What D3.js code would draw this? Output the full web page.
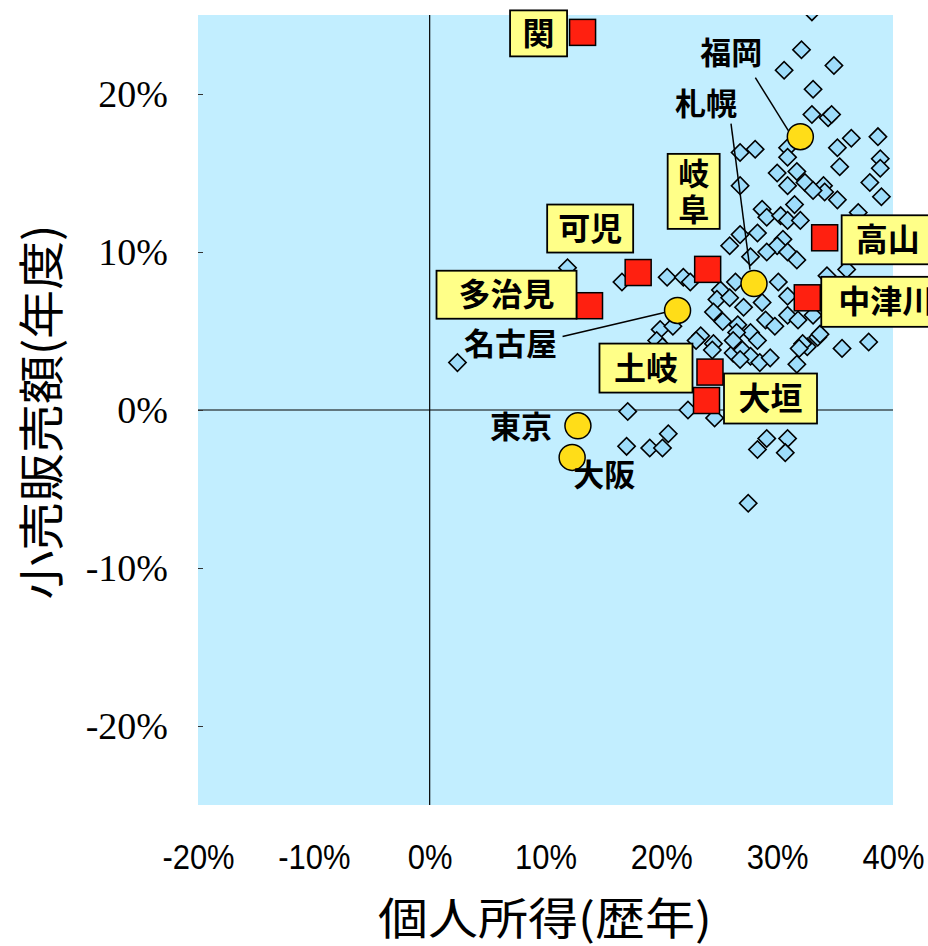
<!DOCTYPE html>
<html><head><meta charset="utf-8">
<script src="https://cdn.jsdelivr.net/npm/d3@7"></script>
<style>html,body{margin:0;padding:0;background:#fff;}svg{display:block;}</style>
</head><body>
<script>
// ---- data ----
const xTicks = [-20, -10, 0, 10, 20, 30, 40];
const yTicks = [-20, -10, 0, 10, 20];
const xTitle = "個人所得(歴年)";
const yTitle = "小売販売額(年度)";

// other cities (personal income %, retail sales %)
const otherX = [33.0,32.1,30.6,34.9,33.1,33.0,34.4,34.7,36.4,38.7,35.2,26.8,28.1,30.9,30.9,35.4,38.9,38.9,38.0,39.0,
  30.0,31.7,30.9,32.4,34.0,34.1,33.1,35.2,26.8,31.5,28.7,29.1,30.3,30.9,32.0,37.0,26.8,28.3,25.9,30.5,
  30.0,30.9,29.1,27.7,31.7,34.3,36.0,26.4,30.1,25.1,24.8,25.9,27.1,28.7,30.9,24.5,25.3,26.6,27.7,29.0,
  29.8,30.9,31.8,33.1,28.3,23.4,24.5,33.5,32.6,35.6,37.9,20.5,21.9,22.5,11.9,16.6,26.5,23.0,24.4,19.9,
  21.0,19.6,20.1,26.2,27.0,27.7,26.8,28.5,29.4,31.7,32.2,33.7,31.9,2.4,26.2,17.1,22.3,24.6,20.6,19.0,
  20.1,17.0,29.1,28.3,30.9,30.7,27.5];
const otherY = [25.2,22.8,21.5,21.8,20.3,18.7,18.5,18.7,17.2,17.3,16.6,16.3,16.5,16.6,16.0,15.4,15.9,15.3,14.4,13.5,
  15.0,15.1,14.2,14.4,14.2,13.8,13.9,13.3,14.2,13.0,12.7,12.2,12.3,12.0,12.0,12.5,11.1,11.2,10.4,10.8,
  10.4,10.0,10.0,9.7,9.5,8.5,8.9,8.1,8.1,7.6,7.0,7.1,6.5,6.8,7.2,6.2,5.6,5.4,4.9,5.7,
  5.3,6.0,5.7,6.0,4.4,4.7,4.2,4.6,4.0,3.9,4.3,8.4,8.4,8.1,9.0,8.1,4.9,4.4,3.8,5.1,
  5.3,4.4,4.0,3.6,3.8,3.4,3.2,3.0,3.3,2.9,4.2,4.8,3.9,3.0,4.4,-0.1,0.0,-0.5,-1.5,-2.4,
  -2.4,-2.3,-1.8,-2.5,-1.8,-2.7,-5.9];

// Gifu prefecture cities (red squares)
const gifuNames = ["関","可児","多治見","岐阜","高山","中津川","土岐","大垣"];
const gifuX = [13.2, 18.0, 13.8, 24.0, 34.1, 32.6, 24.2, 23.9];
const gifuY = [23.9, 8.7, 6.6, 8.9, 10.9, 7.1, 2.4, 0.6];

// major cities (yellow circles)
const majorNames = ["福岡","札幌","名古屋","東京","大阪"];
const majorX = [32.0, 28.0, 21.4, 12.8, 12.3];
const majorY = [17.3, 8.0, 6.3, -1.0, -3.0];

// ---- layout / label placement (pixel offsets from the point) ----
const W = 928, H = 946;
const M = {left:198, right:893, top:15, bottom:805};
const boxLabels = {
  "関":   {dx:-44,  dy:1,    w:57,  h:46, vertical:false},
  "可児": {dx:-48,  dy:-44,  w:86,  h:48, vertical:false},
  "多治見":{dx:-83, dy:-11,  w:140, h:48, vertical:false},
  "岐阜": {dx:-14,  dy:-78,  w:52,  h:75, vertical:true},
  "高山": {dx:63,   dy:2,    w:92,  h:49, vertical:false},
  "中津川":{dx:79,  dy:4,    w:130, h:50, vertical:false},
  "土岐": {dx:-64,  dy:-4,   w:93,  h:49, vertical:false},
  "大垣": {dx:64,   dy:-2,   w:93,  h:50, vertical:false}
};
const textLabels = {
  "福岡":  {dx:-69,  dy:-84, line:[-45,-59,-12,-6]},
  "札幌":  {dx:-48,  dy:-180,line:[-23,-160,-4,-14]},
  "名古屋":{dx:-167, dy:33,  line:[-115,26,-13,2]},
  "東京":  {dx:-57,  dy:1},
  "大阪":  {dx:32,   dy:17}
};

const svg = d3.select("body").append("svg").attr("width", W).attr("height", H)
  .style("font-family", "'Noto Sans CJK JP', sans-serif");

const x = d3.scaleLinear().domain([-20, 40]).range([M.left, M.right]);
const y = d3.scaleLinear().domain([-25, 25]).range([M.bottom, M.top]);

svg.append("defs").append("clipPath").attr("id","plotclip")
  .append("rect").attr("x",M.left).attr("y",M.top).attr("width",M.right-M.left).attr("height",M.bottom-M.top);

svg.append("rect").attr("x",M.left).attr("y",M.top).attr("width",M.right-M.left).attr("height",M.bottom-M.top)
  .attr("fill","#C2EEFF");

// zero lines
svg.append("line").attr("x1",M.left).attr("x2",M.right).attr("y1",y(0)).attr("y2",y(0))
  .attr("stroke","#000").attr("stroke-width",1.2);
svg.append("line").attr("x1",x(0)).attr("x2",x(0)).attr("y1",M.top).attr("y2",M.bottom)
  .attr("stroke","#000").attr("stroke-width",1.2);

// y axis
const yAxis = d3.axisLeft(y).tickValues(yTicks).tickSize(-5).tickPadding(30).tickFormat(d => d + "%");
const gy = svg.append("g").attr("transform", `translate(${M.left},0)`).call(yAxis);
gy.select(".domain").remove();
gy.selectAll(".tick line").attr("stroke","#333");
gy.selectAll("text").attr("font-family","'Liberation Serif', 'Times New Roman', serif")
  .attr("font-size",38).attr("fill","#000");

// x axis
const xAxis = d3.axisBottom(x).tickValues(xTicks).tickSize(0).tickPadding(0).tickFormat(d => d + "%");
const gx = svg.append("g").attr("transform", `translate(0,${M.bottom})`).call(xAxis);
gx.select(".domain").remove();
gx.selectAll(".tick text").attr("font-family","'Liberation Sans Narrow','Liberation Sans', Arial, sans-serif")
  .attr("font-size",36).attr("fill","#000").attr("dy",0)
  .attr("transform","translate(0,64) scale(0.86,1)");

// axis titles
svg.append("text").attr("x",545).attr("y",935).attr("text-anchor","middle")
  .attr("font-size",44).attr("fill","#000")
  .attr("textLength",334).attr("lengthAdjust","spacingAndGlyphs").text(xTitle);
svg.append("text").attr("transform","translate(58,412) rotate(-90)").attr("text-anchor","middle")
  .attr("font-size",46).attr("fill","#000")
  .attr("textLength",375).attr("lengthAdjust","spacingAndGlyphs").text(yTitle);

const plot = svg.append("g").attr("clip-path","url(#plotclip)");

// diamonds
const others = otherX.map((v,i) => ({x:v, y:otherY[i]}));
const diamond = d3.symbol().type(d3.symbolSquare).size(150);
plot.selectAll("path.other").data(others).join("path")
  .attr("class","other")
  .attr("d", diamond)
  .attr("transform", d => `translate(${x(d.x)},${y(d.y)}) rotate(45)`)
  .attr("fill","#9EDDFB").attr("stroke","#000").attr("stroke-width",1.6);

// leader lines
const majors = majorNames.map((n,i) => ({name:n, x:majorX[i], y:majorY[i]}));
svg.selectAll("line.leader").data(majors.filter(d => textLabels[d.name].line)).join("line")
  .attr("class","leader")
  .attr("x1", d => x(d.x) + textLabels[d.name].line[0])
  .attr("y1", d => y(d.y) + textLabels[d.name].line[1])
  .attr("x2", d => x(d.x) + textLabels[d.name].line[2])
  .attr("y2", d => y(d.y) + textLabels[d.name].line[3])
  .attr("stroke","#000").attr("stroke-width",1.5);

// circles
svg.selectAll("circle.major").data(majors).join("circle")
  .attr("class","major")
  .attr("cx", d => x(d.x)).attr("cy", d => y(d.y)).attr("r",13)
  .attr("fill","#FFDD18").attr("stroke","#000").attr("stroke-width",1.5);

// squares
const gifu = gifuNames.map((n,i) => ({name:n, x:gifuX[i], y:gifuY[i]}));
svg.selectAll("rect.gifu").data(gifu).join("rect")
  .attr("class","gifu")
  .attr("x", d => x(d.x) - 13).attr("y", d => y(d.y) - 13)
  .attr("width",26).attr("height",26)
  .attr("fill","#FF2010").attr("stroke","#000").attr("stroke-width",1.5);

// boxed labels
const bl = svg.selectAll("g.blabel").data(gifu).join("g").attr("class","blabel")
  .attr("transform", d => `translate(${x(d.x)+boxLabels[d.name].dx},${y(d.y)+boxLabels[d.name].dy})`);
bl.append("rect")
  .attr("x", d => -boxLabels[d.name].w/2).attr("y", d => -boxLabels[d.name].h/2)
  .attr("width", d => boxLabels[d.name].w).attr("height", d => boxLabels[d.name].h)
  .attr("fill","#FFFF88").attr("stroke","#000").attr("stroke-width",1.8);
bl.each(function(d) {
  const g = d3.select(this);
  const cfg = boxLabels[d.name];
  if (cfg.vertical) {
    const chars = Array.from(d.name);
    chars.forEach((c,i) => {
      g.append("text").attr("x",0).attr("y", (i - (chars.length-1)/2) * 36)
        .attr("dy","0.36em").attr("text-anchor","middle")
        .attr("font-size",31).attr("font-weight","bold").attr("fill","#000").text(c);
    });
  } else {
    g.append("text").attr("x",0).attr("y",0).attr("dy","0.36em").attr("text-anchor","middle")
      .attr("font-size",32).attr("font-weight","bold").attr("fill","#000").text(d.name);
  }
});

// plain labels for major cities
svg.selectAll("text.mlabel").data(majors).join("text").attr("class","mlabel")
  .attr("x", d => x(d.x) + textLabels[d.name].dx)
  .attr("y", d => y(d.y) + textLabels[d.name].dy)
  .attr("dy","0.36em").attr("text-anchor","middle")
  .attr("font-size",31).attr("font-weight","bold").attr("fill","#000").text(d => d.name);
</script>
</body></html>
